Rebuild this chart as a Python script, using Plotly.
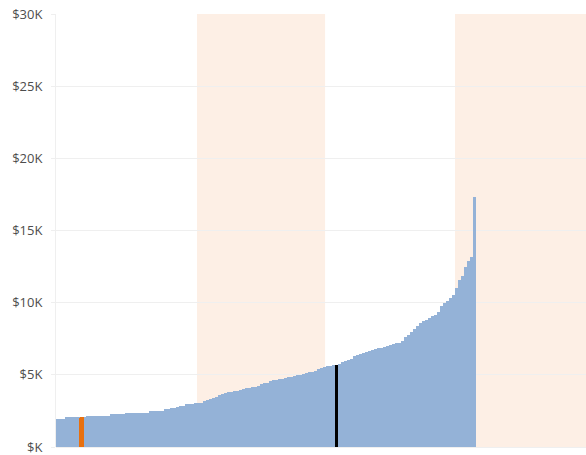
import plotly.graph_objects as go

# Sorted values (in $K), one per item
values = [
    1.94, 1.94, 1.94, 2.06, 2.06, 2.06, 2.06, 2.06, 2.06, 2.06,
    2.15, 2.15, 2.15, 2.15, 2.15, 2.15, 2.15, 2.15, 2.26, 2.26,
    2.26, 2.26, 2.26, 2.36, 2.36, 2.36, 2.36, 2.36, 2.36, 2.36,
    2.36, 2.49, 2.49, 2.49, 2.49, 2.49, 2.63, 2.63, 2.68, 2.72,
    2.80, 2.84, 2.86, 2.96, 2.96, 2.96, 3.05, 3.05, 3.05, 3.19,
    3.24, 3.30, 3.37, 3.45, 3.58, 3.68, 3.76, 3.80, 3.84, 3.87,
    3.90, 3.96, 4.02, 4.07, 4.10, 4.14, 4.18, 4.26, 4.35, 4.40,
    4.46, 4.58, 4.62, 4.66, 4.70, 4.74, 4.78, 4.83, 4.88, 4.92,
    4.96, 5.00, 5.04, 5.10, 5.17, 5.22, 5.30, 5.42, 5.48, 5.53,
    5.60, 5.64, 5.67, 5.70, 5.78, 5.86, 5.93, 6.00, 6.12, 6.28,
    6.38, 6.45, 6.52, 6.58, 6.66, 6.74, 6.80, 6.84, 6.88, 6.92,
    7.00, 7.08, 7.14, 7.19, 7.23, 7.35, 7.60, 7.78, 8.00, 8.15,
    8.35, 8.60, 8.72, 8.80, 8.92, 9.05, 9.18, 9.35, 9.80, 9.98,
    10.10, 10.35, 10.55, 11.05, 11.55, 11.85, 12.45, 12.90, 13.15, 17.30,
]
items = list(range(len(values)))

# Highlighted items
orange_item = [8]
orange_value = [2.06]
black_item = [93]
black_value = [5.68]

# Shaded band ranges (item-axis coordinates)
band_ranges = [(46.5, 89.2), (132.5, 176.2)]

# Y ticks
tick_values = [0, 5, 10, 15, 20, 25, 30]
tick_labels = ["$K", "$5K", "$10K", "$15K", "$20K", "$25K", "$30K"]

BLUE = "#94B2D7"
BAND = "#FDEFE5"
ORANGE = "#E8700F"
GRID = "#EFEFEF"

fig = go.Figure()
fig.add_trace(go.Bar(
    x=items, y=values, width=1.0,
    marker=dict(color=BLUE, line=dict(width=0)),
    hoverinfo="skip", showlegend=False,
))
fig.add_trace(go.Bar(
    x=orange_item, y=orange_value, width=1.6,
    marker=dict(color=ORANGE, line=dict(width=0), cornerradius=2),
    hoverinfo="skip", showlegend=False,
))
fig.add_trace(go.Bar(
    x=black_item, y=black_value, width=1.25,
    marker=dict(color="#000000", line=dict(width=0), cornerradius=2),
    hoverinfo="skip", showlegend=False,
))

for x0, x1 in band_ranges:
    fig.add_shape(type="rect", xref="x", yref="paper", x0=x0, x1=x1, y0=0, y1=1,
                  fillcolor=BAND, line=dict(width=0), layer="below")

fig.update_layout(
    width=586, height=455,
    margin=dict(l=56, r=0, t=14, b=8),
    paper_bgcolor="white", plot_bgcolor="white",
    barmode="overlay", bargap=0,
    font=dict(family="Open Sans", size=13, color="#4D4D4D"),
    xaxis=dict(range=[-0.5, 176.17], showticklabels=False, showgrid=False,
               zeroline=False, showline=False, ticks=""),
    yaxis=dict(range=[0, 30], tickvals=tick_values, ticktext=tick_labels,
               showgrid=True, gridcolor=GRID, gridwidth=1,
               zeroline=True, zerolinecolor=GRID, zerolinewidth=1,
               showline=True, linecolor=GRID, linewidth=1,
               ticks="outside", ticklen=4, tickcolor=GRID,
               ticklabelstandoff=6, ticklabeloverflow="allow", automargin=False),
)

fig.write_html(
    "out.html",
    config={"displayModeBar": False},
    post_script="document.body.style.margin='0';document.body.style.overflow='hidden';",
)
